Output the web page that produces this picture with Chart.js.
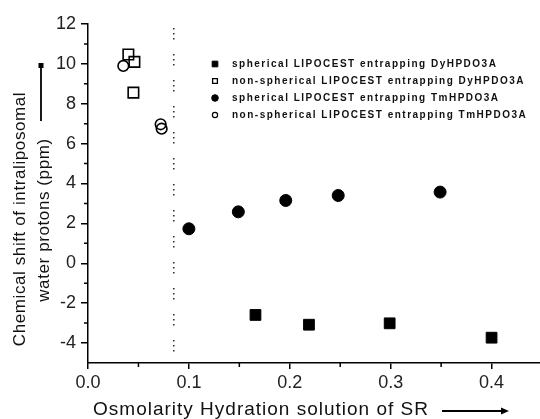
<!DOCTYPE html>
<html><head><meta charset="utf-8">
<script src="https://cdn.jsdelivr.net/npm/chart.js@4"></script>
<style>html,body{margin:0;padding:0;background:#fff}</style>
</head><body>
<canvas id="c" width="540" height="419" style="width:540px;height:419px;display:block"></canvas>
<script>
// ---- data ----
const seriesLabels = [
  'spherical LIPOCEST entrapping DyHPDO3A',
  'non-spherical LIPOCEST entrapping DyHPDO3A',
  'spherical LIPOCEST entrapping TmHPDO3A',
  'non-spherical LIPOCEST entrapping TmHPDO3A'
];
const sphDyX = [0.166, 0.219, 0.299, 0.400];
const sphDyY = [-2.59, -3.08, -3.01, -3.73];
const nonDyX = [0.040, 0.046, 0.045];
const nonDyY = [10.47, 10.10, 8.56];
const sphTmX = [0.100, 0.149, 0.196, 0.248, 0.349];
const sphTmY = [1.73, 2.58, 3.15, 3.40, 3.57];
const nonTmX = [0.035, 0.072, 0.073];
const nonTmY = [9.90, 6.97, 6.75];
const dividerX = [0.085, 0.085];
const dividerY = [11.8, -4.8];
const xMajorTicks = [0, 0.1, 0.2, 0.3, 0.4];
const xMinorTicks = [0.05, 0.15, 0.25, 0.35];
const xTickLabels = ['0.0', '0.1', '0.2', '0.3', '0.4'];
const yMajorTicks = [-4, -2, 0, 2, 4, 6, 8, 10, 12];
const yMinorTicks = [-3, -1, 1, 3, 5, 7, 9, 11];
const yTickLabels = ['-4', '-2', '0', '2', '4', '6', '8', '10', '12'];
const xTitle = 'Osmolarity Hydration solution of SR';
const yTitle = ['Chemical shift of intraliposomal', 'water protons (ppm)'];

const FONT = "'Liberation Sans', Arial, sans-serif";
const pts = (xs, ys) => xs.map((x, i) => ({x: x, y: ys[i]}));

const legendStyles = [
  {pointStyle: 'rect', radius: 4, borderWidth: 1, backgroundColor: '#000', borderColor: '#000'},
  {pointStyle: 'rect', radius: 3.4, borderWidth: 1.3, backgroundColor: 'rgba(0,0,0,0)', borderColor: '#000'},
  {pointStyle: 'circle', radius: 3.3, borderWidth: 1, backgroundColor: '#000', borderColor: '#000'},
  {pointStyle: 'circle', radius: 2.6, borderWidth: 1.2, backgroundColor: 'rgba(0,0,0,0)', borderColor: '#000'}
];

const decor = {
  id: 'decor',
  afterDraw(chart) {
    const ctx = chart.ctx;
    const xs = chart.scales.x, ys = chart.scales.y;
    const area = chart.chartArea;
    ctx.save();
    ctx.strokeStyle = '#000';
    ctx.lineWidth = 1.5;
    // minor ticks
    ctx.beginPath();
    xMinorTicks.forEach(v => { const px = xs.getPixelForValue(v); ctx.moveTo(px, area.bottom); ctx.lineTo(px, area.bottom + 4); });
    yMinorTicks.forEach(v => { const py = ys.getPixelForValue(v); ctx.moveTo(area.left, py); ctx.lineTo(area.left - 4, py); });
    ctx.stroke();
    // y title
    ctx.fillStyle = '#111';
    ctx.font = '17px ' + FONT;
    ctx.textAlign = 'center';
    ctx.textBaseline = 'middle';
    try { ctx.letterSpacing = '0.6px'; } catch (e) {}
    ctx.save(); ctx.translate(20, 219); ctx.rotate(-Math.PI / 2); ctx.fillText(yTitle[0], 0, 0); ctx.restore();
    ctx.save(); ctx.translate(44, 220); ctx.rotate(-Math.PI / 2); ctx.fillText(yTitle[1], 0, 0); ctx.restore();
    // y arrow
    ctx.lineWidth = 1.8;
    ctx.beginPath(); ctx.moveTo(41, 121); ctx.lineTo(41, 66); ctx.stroke();
    ctx.fillStyle = '#000';
    ctx.fillRect(38.5, 63, 5, 5);
    // x title
    ctx.fillStyle = '#111';
    ctx.font = '19px ' + FONT;
    try { ctx.letterSpacing = '1px'; } catch (e) {}
    ctx.textAlign = 'center';
    ctx.fillText(xTitle, 261, 410);
    ctx.beginPath(); ctx.moveTo(442, 411); ctx.lineTo(503, 411); ctx.stroke();
    ctx.fillStyle = '#000';
    ctx.beginPath(); ctx.moveTo(509, 411); ctx.lineTo(501, 407.5); ctx.lineTo(501, 414.5); ctx.closePath(); ctx.fill();
    // legend
    const rows = [64, 81, 98, 115];
    ctx.font = 'bold 10px ' + FONT;
    ctx.textAlign = 'left';
    ctx.textBaseline = 'middle';
    try { ctx.letterSpacing = '1.5px'; } catch (e) {}
    seriesLabels.forEach((lab, i) => {
      const st = legendStyles[i];
      ctx.fillStyle = st.backgroundColor; ctx.strokeStyle = st.borderColor; ctx.lineWidth = st.borderWidth;
      Chart.helpers.drawPoint(ctx, {pointStyle: st.pointStyle, radius: st.radius, borderWidth: st.borderWidth, rotation: 0}, 215, rows[i]);
      ctx.fillStyle = '#111';
      ctx.fillText(lab, 232, rows[i]);
    });
    ctx.restore();
  }
};

new Chart(document.getElementById('c'), {
  type: 'scatter',
  data: {
    datasets: [
      {label: seriesLabels[0], data: pts(sphDyX, sphDyY), pointStyle: 'rect', pointRadius: 7.6, borderWidth: 1, backgroundColor: '#000', borderColor: '#000'},
      {label: seriesLabels[1], data: pts(nonDyX, nonDyY), pointStyle: 'rect', pointRadius: 7.4, borderWidth: 1.6, backgroundColor: 'rgba(0,0,0,0)', borderColor: '#000'},
      {label: seriesLabels[2], data: pts(sphTmX, sphTmY), pointStyle: 'circle', pointRadius: 6, borderWidth: 1, backgroundColor: '#000', borderColor: '#000'},
      {label: seriesLabels[3], data: pts(nonTmX, nonTmY), pointStyle: 'circle', pointRadius: 5.3, borderWidth: 1.6, backgroundColor: 'rgba(0,0,0,0)', borderColor: '#000'},
      {label: 'divider', data: pts(dividerX, dividerY), showLine: true, pointRadius: 0, borderColor: '#333', borderWidth: 1.6, borderDash: [1.5, 3.5, 1.5, 3.5, 1.5, 14.5]}
    ]
  },
  options: {
    responsive: false,
    animation: false,
    layout: {autoPadding: false, padding: {top: 24, right: 0, left: 0, bottom: 0}},
    plugins: {legend: {display: false}, tooltip: {enabled: false}},
    scales: {
      x: {
        type: 'linear', min: 0, max: 0.448,
        afterBuildTicks: s => { s.ticks = xMajorTicks.map(v => ({value: v})); },
        afterFit: s => { s.height = 56; s.paddingRight = 0; s.paddingLeft = 0; },
        ticks: {autoSkip: false, maxRotation: 0, padding: 3, color: '#222', font: {family: FONT, size: 18},
          callback: (v, i) => xTickLabels[i]},
        grid: {drawOnChartArea: false, drawTicks: true, tickLength: 6, color: '#000', lineWidth: 1.5},
        border: {display: true, color: '#000', width: 1.5}
      },
      y: {
        type: 'linear', min: -5, max: 12,
        afterBuildTicks: s => { s.ticks = yMajorTicks.map(v => ({value: v})); },
        afterFit: s => { s.width = 88; },
        ticks: {autoSkip: false, padding: 5, color: '#222', font: {family: FONT, size: 18},
          callback: (v, i) => yTickLabels[i]},
        grid: {drawOnChartArea: false, drawTicks: true, tickLength: 7, color: '#000', lineWidth: 1.5},
        border: {display: true, color: '#000', width: 1.5}
      }
    }
  },
  plugins: [decor]
});
</script>
</body></html>
